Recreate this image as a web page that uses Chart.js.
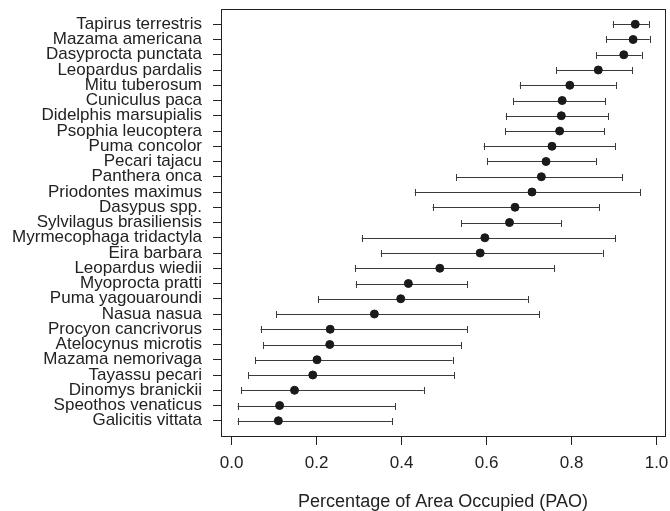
<!DOCTYPE html>
<html>
<head>
<meta charset="utf-8">
<script src="https://cdn.jsdelivr.net/npm/chart.js@4/dist/chart.umd.min.js"></script>
<style>
  html, body { margin: 0; padding: 0; background: #fff; }
  #wrap { width: 670px; height: 511px; }
</style>
</head>
<body>
<div id="wrap"><canvas id="paoChart"></canvas></div>
<script>
// Species, top to bottom
const species = [
    'Tapirus terrestris', 'Mazama americana', 'Dasyprocta punctata', 'Leopardus pardalis',
    'Mitu tuberosum', 'Cuniculus paca', 'Didelphis marsupialis', 'Psophia leucoptera',
    'Puma concolor', 'Pecari tajacu', 'Panthera onca', 'Priodontes maximus',
    'Dasypus spp.', 'Sylvilagus brasiliensis', 'Myrmecophaga tridactyla', 'Eira barbara',
    'Leopardus wiedii', 'Myoprocta pratti', 'Puma yagouaroundi', 'Nasua nasua',
    'Procyon cancrivorus', 'Atelocynus microtis', 'Mazama nemorivaga', 'Tayassu pecari',
    'Dinomys branickii', 'Speothos venaticus', 'Galicitis vittata'
];
// PAO estimates
const pao = [
    0.950, 0.945, 0.923, 0.863, 0.796, 0.778, 0.776, 0.772, 0.754, 0.740,
    0.729, 0.707, 0.667, 0.654, 0.596, 0.585, 0.490, 0.416, 0.398, 0.336,
    0.232, 0.231, 0.201, 0.191, 0.148, 0.113, 0.110
];
// lower / upper interval limits
const lower = [
    0.897, 0.881, 0.858, 0.764, 0.678, 0.663, 0.645, 0.644, 0.593, 0.602,
    0.529, 0.431, 0.473, 0.540, 0.306, 0.351, 0.290, 0.292, 0.203, 0.105,
    0.068, 0.074, 0.056, 0.039, 0.023, 0.014, 0.014
];
const upper = [
    0.982, 0.984, 0.965, 0.943, 0.904, 0.879, 0.886, 0.877, 0.903, 0.857,
    0.919, 0.961, 0.865, 0.775, 0.903, 0.873, 0.759, 0.554, 0.697, 0.724,
    0.555, 0.540, 0.520, 0.524, 0.452, 0.385, 0.377
];
const xTicks = [0, 0.2, 0.4, 0.6, 0.8, 1.0];

const n = species.length;
const rowOf = i => n - i;   // top row gets the highest y value

const fontFamily = "'Liberation Sans', Arial, Helvetica, sans-serif";
const inkColor = '#222';

// draws the interval lines with end caps, and the box round the plot
const errorBarPlugin = {
    id: 'errorBars',
    beforeDatasetsDraw(chart) {
        const ctx = chart.ctx;
        const xs = chart.scales.x, ys = chart.scales.y;
        ctx.save();
        ctx.strokeStyle = '#3a3a3a';
        ctx.lineWidth = 1;
        for (let i = 0; i < n; i++) {
            const y = Math.round(ys.getPixelForValue(rowOf(i))) + 0.5;
            const x1 = xs.getPixelForValue(lower[i]);
            const x2 = xs.getPixelForValue(upper[i]);
            ctx.beginPath();
            ctx.moveTo(x1, y); ctx.lineTo(x2, y);
            ctx.moveTo(Math.round(x1) + 0.5, y - 3.5); ctx.lineTo(Math.round(x1) + 0.5, y + 3.5);
            ctx.moveTo(Math.round(x2) + 0.5, y - 3.5); ctx.lineTo(Math.round(x2) + 0.5, y + 3.5);
            ctx.stroke();
        }
        ctx.restore();
    },
    afterDraw(chart) {
        const a = chart.chartArea;
        const ctx = chart.ctx;
        ctx.save();
        ctx.strokeStyle = inkColor;
        ctx.lineWidth = 1;
        ctx.strokeRect(Math.round(a.left) + 0.5, Math.round(a.top) + 0.5,
            Math.round(a.right - a.left), Math.round(a.bottom - a.top));
        ctx.restore();
    }
};

const ctx = document.getElementById('paoChart').getContext('2d');
const paoChart = new Chart(ctx, {
    type: 'scatter',
    data: {
        datasets: [{
            data: pao.map((v, i) => ({ x: v, y: rowOf(i) })),
            backgroundColor: '#1a1a1a',
            borderColor: '#1a1a1a',
            pointRadius: 4,
            pointHoverRadius: 4
        }]
    },
    options: {
        responsive: true,
        maintainAspectRatio: false,
        animation: false,
        layout: { padding: { top: 9, right: 5, bottom: 0, left: 0 } },
        plugins: {
            legend: { display: false },
            tooltip: { enabled: false }
        },
        scales: {
            x: {
                type: 'linear',
                min: -0.025,
                max: 1.02,
                afterBuildTicks: s => { s.ticks = xTicks.map(v => ({ value: v })); },
                afterFit: s => { s.height = 75; s.paddingLeft = 0; s.paddingRight = 0; },
                grid: { drawOnChartArea: false, drawTicks: true, tickLength: 9, color: inkColor },
                border: { display: true, color: inkColor },
                ticks: {
                    color: inkColor,
                    padding: 8,
                    font: { family: fontFamily, size: 17 },
                    callback: v => Number(v).toFixed(1)
                },
                title: {
                    display: true,
                    text: 'Percentage of Area Occupied (PAO)',
                    color: inkColor,
                    padding: { top: 0, bottom: 0 },
                    font: { family: fontFamily, size: 18, lineHeight: 1 }
                }
            },
            y: {
                type: 'linear',
                min: 0,
                max: n + 1,
                afterBuildTicks: s => {
                    s.ticks = species.map((_, i) => ({ value: rowOf(i) }));
                },
                afterFit: s => { s.width = 221; s.paddingTop = 0; s.paddingBottom = 0; },
                grid: { drawOnChartArea: false, drawTicks: true, tickLength: 8, color: inkColor },
                border: { display: true, color: inkColor },
                ticks: {
                    autoSkip: false,
                    color: inkColor,
                    padding: 11,
                    font: { family: fontFamily, size: 17 },
                    callback: v => species[n - v] || ''
                }
            }
        }
    },
    plugins: [errorBarPlugin]
});
</script>
</body>
</html>
